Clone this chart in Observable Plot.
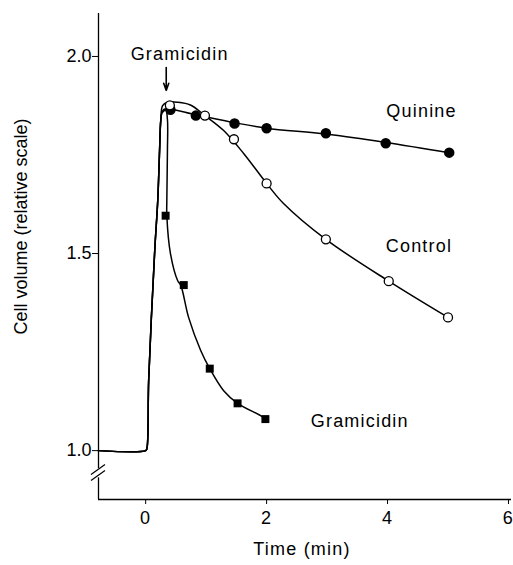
<!DOCTYPE html>
<html><head><meta charset="utf-8">
<script src="https://cdn.jsdelivr.net/npm/d3@7"></script>
<script src="https://cdn.jsdelivr.net/npm/@observablehq/plot@0.6"></script>
<style>
body{margin:0;background:#fff}
svg text{letter-spacing:1.2px}
g[aria-label="y-axis tick label"] text, g[aria-description="ylabel"] text{letter-spacing:0}
</style></head><body><div id="chart"></div>
<script>
// ---- data ----
const xTicks = [0, 2, 4, 6];
const yTicks = [1.0, 1.5, 2.0];

// measured points
const quinineT = [0.41, 0.83, 1.47, 2.0, 2.98, 3.97, 5.02];
const quinineV = [1.865, 1.85, 1.83, 1.818, 1.805, 1.78, 1.756];
const controlT = [0.40, 0.98, 1.46, 2.0, 2.98, 4.02, 5.0];
const controlV = [1.876, 1.85, 1.79, 1.678, 1.536, 1.43, 1.338];
const gramT = [0.33, 0.63, 1.06, 1.52, 1.98];
const gramV = [1.596, 1.42, 1.208, 1.12, 1.08];

// drawn curves (traced)
const riseT = [-0.78, 0.0, 0.02, 0.05, 0.15, 0.2, 0.23, 0.25];
const riseV = [1.0, 1.0, 1.005, 1.18, 1.508, 1.635, 1.761, 1.838];
const controlCurveT = [0.28, 0.36, 0.53, 0.74, 0.98, 1.29, 1.62, 2.0, 2.28, 2.98, 4.02, 5.0];
const controlCurveV = [1.875, 1.884, 1.884, 1.877, 1.85, 1.812, 1.754, 1.678, 1.627, 1.536, 1.43, 1.338];
const quinineCurveT = [0.27, 0.36, 0.83, 1.47, 2.0, 2.98, 3.97, 5.02];
const quinineCurveV = [1.857, 1.866, 1.852, 1.832, 1.818, 1.803, 1.782, 1.756];
const gramCurveT = [0.28, 0.33, 0.36, 0.36, 0.35, 0.35, 0.41, 0.53, 0.58, 0.71, 0.91, 1.06, 1.29, 1.52, 1.9, 1.98];
const gramCurveV = [1.862, 1.866, 1.84, 1.761, 1.635, 1.596, 1.5, 1.431, 1.42, 1.338, 1.254, 1.208, 1.152, 1.12, 1.089, 1.081];

// labels
const labelText = ["Gramicidin", "Quinine", "Control", "Gramicidin"];
const labelT = [-0.248, 3.98, 3.97, 2.73];
const labelV = [2.005, 1.860, 1.518, 1.074];
const arrowT = [0.34], arrowV1 = [1.972], arrowV2 = [1.914];

// axis extents
const xMin = -0.78, xMax = 6.05, yMin = 0.876, yMax = 2.109;
const breakTop = 0.954, breakBottom = 0.931, breakMid = 0.943;

const rows = (T, V) => T.map((t, i) => ({t, v: V[i]}));
const rise = rows(riseT, riseV);

function axisBreak(index, scales) {
  const g = d3.create("svg:g").attr("stroke", "black").attr("stroke-width", 1.2).attr("fill", "none");
  const cx = scales.x(xMin), cy = scales.y(breakMid);
  [-3, 3].forEach(o => g.append("line")
    .attr("x1", cx - 7).attr("y1", cy + o + 5)
    .attr("x2", cx + 7).attr("y2", cy + o - 5));
  return g.node();
}

const lineOpts = {x: "t", y: "v", stroke: "black", strokeWidth: 1.5, curve: "catmull-rom"};

const chart = Plot.plot({
  width: 513, height: 565,
  marginTop: 13, marginBottom: 66, marginLeft: 98, marginRight: 2,
  x: {domain: [xMin, xMax]},
  y: {domain: [yMin, yMax]},
  style: {fontFamily: "Liberation Sans", fontSize: "18px", background: "white", color: "black"},
  marks: [
    Plot.ruleX([xMin], {y1: breakTop, y2: yMax, strokeWidth: 1.3}),
    Plot.ruleX([xMin], {y1: yMin, y2: breakBottom, strokeWidth: 1.3}),
    Plot.ruleY([yMin], {strokeWidth: 1.3}),
    axisBreak,
    Plot.axisX({ticks: xTicks, tickSize: 5, tickPadding: 7, label: null, tickFormat: d => String(d)}),
    Plot.axisY({ticks: yTicks, tickSize: 6, tickPadding: 1, label: null, tickFormat: d3.format(".1f")}),
    Plot.line(rise.concat(rows(controlCurveT, controlCurveV)), lineOpts),
    Plot.line(rise.concat(rows(quinineCurveT, quinineCurveV)), lineOpts),
    Plot.line(rise.concat(rows(gramCurveT, gramCurveV)), lineOpts),
    Plot.dot(rows(quinineT, quinineV), {x: "t", y: "v", r: 4.5, fill: "black", stroke: "black"}),
    Plot.dot(rows(controlT, controlV), {x: "t", y: "v", r: 4.5, fill: "white", stroke: "black", strokeWidth: 1.3}),
    Plot.dot(rows(gramT, gramV), {x: "t", y: "v", r: 4.5, symbol: "square", fill: "black", stroke: "none"}),
    Plot.arrow(arrowT.map((t, i) => ({t, v1: arrowV1[i], v2: arrowV2[i]})),
      {x1: "t", x2: "t", y1: "v1", y2: "v2", strokeWidth: 1.6, headLength: 7, headAngle: 40, stroke: "black"}),
    Plot.text(labelText.map((s, i) => ({s, t: labelT[i], v: labelV[i]})),
      {x: "t", y: "v", text: "s", textAnchor: "start", fontSize: 18, fill: "black"}),
    Plot.text(["Time (min)"], {frameAnchor: "bottom", dx: -3, dy: 55, fontSize: 18, fill: "black"}),
    Plot.text(["Cell volume (relative scale)"], {frameAnchor: "left", textAnchor: "middle", dx: -77, dy: -30, rotate: -90, fontSize: 18, fill: "black", ariaDescription: "ylabel"})
  ]
});
document.getElementById("chart").appendChild(chart);
</script></body></html>
